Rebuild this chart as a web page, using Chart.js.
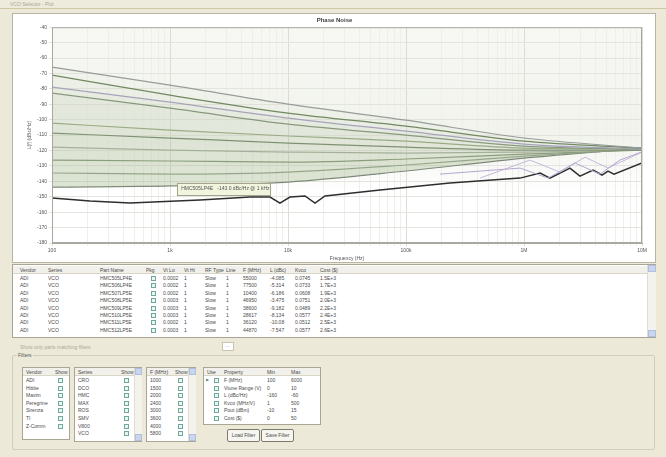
<!DOCTYPE html>
<html>
<head>
<meta charset="utf-8">
<script src="https://cdn.jsdelivr.net/npm/chart.js@4.4.1/dist/chart.umd.min.js"></script>
<style>
  html,body{margin:0;padding:0;}
  body{width:666px;height:457px;background:#ece9d8;position:relative;overflow:hidden;
       font-family:"Liberation Sans",Arial,sans-serif;color:#4a4a4a;}
  .abs{position:absolute;}
  .t{position:absolute;font-size:5px;line-height:6px;white-space:nowrap;}
  #topbar{left:0;top:0;width:666px;height:8px;border-bottom:1px solid #cfc6a4;background:#efebdc;}
  #panel{left:12px;top:13px;width:642px;height:248px;background:#fff;border:1px solid #b7b4a4;}
  #wrap{position:relative;width:642px;height:248px;}
  #grid{left:12px;top:264px;width:642px;height:72px;background:#fff;border:1px solid #a9a694;}
  .hdr{background:#f1f0ea;border-bottom:1px solid #d9d6c8;}
  .box{position:absolute;background:#fff;border:1px solid #a9a694;}
  .chk{position:absolute;width:3px;height:3px;border:1px solid #6fa79c;background:#e9f5f1;}
  .sb{position:absolute;background:#f3f2ec;border-left:1px solid #e0ddd0;}
  .arr{position:absolute;left:0;width:100%;height:7px;background:#c9d6ee;border:1px solid #b0bfe0;box-sizing:border-box;}
  .btn{position:absolute;height:11px;border:1px solid #7d7b6c;border-radius:2px;background:#f6f5f0;
       font-size:5px;line-height:11px;text-align:center;}
  #filters{left:12px;top:355px;width:641px;height:93px;border:1px solid #d2cdb8;border-radius:2px;}
</style>
</head>
<body>
<div id="topbar" class="abs"><span class="t" style="left:10px;top:1px;color:#a9a593;">VCO Selector - Plot</span></div>
<div id="panel" class="abs"><div id="wrap"><canvas id="c"></canvas></div></div>
<div id="grid" class="abs"></div>
<div id="lower"></div>

<script>
// ---- chart data: phase noise (dBc/Hz) at each offset frequency (Hz) ----
const xTickLabels = ['100', '1k', '10k', '100k', '1M', '10M'];
const offsets = [100, 1e3, 1e4, 1e5, 1e6, 1e7];

const vcoA = [-65.9, -77.6, -89.9, -100.3, -111.9, -118.4];
const vcoB = [-71.1, -84.1, -95.7, -104.2, -113.9, -118.4];
const vcoC = [-78.9, -88.6, -99.0, -107.4, -115.8, -119.1];
const vcoD = [-82.8, -92.5, -102.9, -110.0, -117.1, -119.1];
const vcoE = [-102.2, -106.8, -110.6, -113.9, -118.4, -119.1];
const vcoF = [-108.7, -111.9, -115.2, -117.8, -119.7, -119.7];
const vcoG = [-117.8, -119.7, -121.0, -121.7, -121.0, -119.7];
const vcoH = [-126.2, -126.8, -127.5, -125.5, -122.3, -119.7];
const vcoI = [-134.6, -135.3, -134.0, -129.4, -123.6, -119.1];
const vcoJ = [-143.7, -143.0, -140.5, -133.3, -124.9, -118.4];

// composite (best-case) noise floor with spur notches
const floorFreq  = [100, 210, 458, 1795, 4765, 7040, 8550, 10390, 13930, 16940, 20600, 60300,
                    236000, 925000, 1370000, 1660000, 2450000, 2980000, 3850000, 4580000, 5150000, 5790000, 10000000];
const floorLevel = [-150.8, -152.8, -154.1, -152.1, -150.2, -150.2, -154.1, -150.2, -149.5, -154.1, -149.5, -145.6,
                    -141.1, -137.9, -134.6, -137.9, -131.4, -136.6, -132.7, -135.9, -133.3, -135.3, -128.1];

// loop-filter responses near the upper offsets
const loopAFreq  = [194000, 925000, 1600000, 2700000, 4400000, 6500000, 10000000];
const loopALevel = [-135.3, -131.4, -137.9, -128.1, -135.3, -126.2, -120.9];
const loopBFreq  = [424000, 1120000, 2020000, 3290000, 5150000, 10000000];
const loopBLevel = [-137.9, -126.2, -134.0, -124.3, -131.4, -121.0];

// marker label for the selected part
const markerText = 'HMC505LP4E   -143.0 dBc/Hz @ 1 kHz';
const markerFreq = [1150, 7000];
const markerLevel = [-141, -149];

const pts = (xs, ys) => xs.map((x, i) => ({x: x, y: ys[i]}));

const vcoSeries = [vcoA, vcoB, vcoC, vcoD, vcoE, vcoF, vcoG, vcoH, vcoI, vcoJ];
const vcoColors = ['#979d9b', '#6e8760', '#a7a3c0', '#86957d', '#9aaa86', '#7b8a72',
                   '#aab0a2', '#8a987c', '#96a490', '#7d867c'];
const lastIdx = vcoSeries.length - 1;

const datasets = vcoSeries.map((s, i) => ({
  data: pts(offsets, s),
  borderColor: vcoColors[i],
  borderWidth: 1.2,
  backgroundColor: 'rgba(168,182,140,0.045)',
  fill: i === lastIdx ? false : {target: lastIdx},
  pointRadius: 0,
  cubicInterpolationMode: 'monotone'
}));
datasets.push({data: pts(loopAFreq, loopALevel), borderColor: '#b3a6d0', borderWidth: 1, pointRadius: 0, fill: false});
datasets.push({data: pts(loopBFreq, loopBLevel), borderColor: '#c4b8da', borderWidth: 1, pointRadius: 0, fill: false});
datasets.push({data: pts(floorFreq, floorLevel), borderColor: '#2e2e2e', borderWidth: 1.5, pointRadius: 0, fill: false});

const plotBackdrop = {
  id: 'plotBackdrop',
  beforeDraw(chart) {
    const {ctx, chartArea: a} = chart;
    const g = ctx.createLinearGradient(0, a.top, 0, a.bottom);
    g.addColorStop(0, '#f7f8f4');
    g.addColorStop(0.5, '#f1f3ec');
    g.addColorStop(0.76, '#ffffff');
    g.addColorStop(1, '#ffffff');
    ctx.save();
    ctx.fillStyle = g;
    ctx.fillRect(a.left, a.top, a.right - a.left, a.bottom - a.top);
    ctx.restore();
  },
  afterDatasetsDraw(chart) {
    const {ctx, chartArea: a, scales: {x, y}} = chart;
    ctx.save();
    ctx.strokeStyle = '#a8a8a0';
    ctx.lineWidth = 1;
    ctx.strokeRect(a.left + 0.5, a.top + 0.5, a.right - a.left - 1, a.bottom - a.top - 1);
    // marker label box
    const x0 = x.getPixelForValue(markerFreq[0]), x1 = x.getPixelForValue(markerFreq[1]);
    const y0 = y.getPixelForValue(markerLevel[0]), y1 = y.getPixelForValue(markerLevel[1]);
    ctx.fillStyle = '#f2f5dd';
    ctx.strokeStyle = '#a3a390';
    ctx.fillRect(x0, y0, x1 - x0, y1 - y0);
    ctx.strokeRect(Math.round(x0) + 0.5, Math.round(y0) + 0.5, Math.round(x1 - x0), Math.round(y1 - y0));
    ctx.fillStyle = '#555';
    ctx.font = '5px "Liberation Sans", Arial, sans-serif';
    ctx.textBaseline = 'middle';
    ctx.fillText(markerText, x0 + 4, (y0 + y1) / 2);
    ctx.restore();
  }
};

new Chart(document.getElementById('c'), {
  type: 'line',
  data: {datasets},
  plugins: [plotBackdrop],
  options: {
    responsive: true,
    maintainAspectRatio: false,
    animation: false,
    layout: {padding: {left: 14, right: 13, top: 0, bottom: 0}},
    plugins: {
      legend: {display: false},
      tooltip: {enabled: false},
      title: {display: true, text: 'Phase Noise', color: '#3d3d3d',
              font: {size: 6, weight: 'bold', family: '"Liberation Sans", Arial, sans-serif'},
              padding: {top: 3, bottom: 3}}
    },
    scales: {
      x: {
        type: 'logarithmic', min: 100, max: 1e7,
        afterBuildTicks(s) {
          const t = [];
          for (let d = 2; d <= 7; d++) for (let m = 1; m <= 9; m++) {
            const v = m * Math.pow(10, d);
            if (v <= 1e7) t.push({value: v});
          }
          s.ticks = t;
        },
        afterFit(s) { s.height = 19; },
        ticks: {
          autoSkip: false, maxRotation: 0, color: '#555', padding: 2,
          font: {size: 5, family: '"Liberation Sans", Arial, sans-serif'},
          callback(v) {
            const e = Math.log10(v);
            return Math.abs(e - Math.round(e)) < 1e-9 ? xTickLabels[Math.round(e) - 2] : '';
          }
        },
        grid: {color: (c) => (c.tick && c.tick.label !== '' ? '#dcdcd5' : '#eeeeea'), tickLength: 3},
        border: {color: '#a8a8a0'},
        title: {display: true, text: 'Frequency (Hz)', color: '#555', padding: {top: 0, bottom: 0},
                font: {size: 5, family: '"Liberation Sans", Arial, sans-serif'}}
      },
      y: {
        min: -180, max: -40,
        afterFit(s) { s.width = 25; },
        ticks: {stepSize: 10, color: '#555', padding: 2,
                font: {size: 5, family: '"Liberation Sans", Arial, sans-serif'}},
        grid: {color: '#e4e4de', tickLength: 3},
        border: {color: '#a8a8a0'},
        title: {display: true, text: 'L(f) (dBc/Hz)', color: '#555', padding: {top: 0, bottom: 0},
                font: {size: 5, family: '"Liberation Sans", Arial, sans-serif'}}
      }
    }
  }
});

// ---- parts table ----
const tableColumns = ['Vendor', 'Series', 'Part Name', 'Pkg', 'Vt Lo', 'Vt Hi', 'RF Type', 'Line',
                      'F (MHz)', 'L (dBc)', 'Kvco', 'Cost ($)'];
const tableColX = [20, 48, 100, 146, 163, 184, 205, 226, 243, 270, 295, 320];
const tableRows = [
  ['ADI', 'VCO', 'HMC505LP4E', '', '0.0002', '1', 'Slow', '1', '55000', '-4.085', '0.0745', '1.5E+3'],
  ['ADI', 'VCO', 'HMC506LP4E', '', '0.0002', '1', 'Slow', '1', '77500', '-5.314', '0.0733', '1.7E+3'],
  ['ADI', 'VCO', 'HMC507LP5E', '', '0.0002', '1', 'Slow', '1', '10400', '-6.186', '0.0608', '1.9E+3'],
  ['ADI', 'VCO', 'HMC508LP5E', '', '0.0003', '1', 'Slow', '1', '46950', '-3.475', '0.0751', '2.0E+3'],
  ['ADI', 'VCO', 'HMC509LP5E', '', '0.0003', '1', 'Slow', '1', '38600', '-9.182', '0.0489', '2.2E+3'],
  ['ADI', 'VCO', 'HMC510LP5E', '', '0.0003', '1', 'Slow', '1', '28617', '-8.134', '0.0577', '2.4E+3'],
  ['ADI', 'VCO', 'HMC511LP5E', '', '0.0002', '1', 'Slow', '1', '36120', '-10.08', '0.0512', '2.5E+3'],
  ['ADI', 'VCO', 'HMC512LP5E', '', '0.0003', '1', 'Slow', '1', '44870', '-7.547', '0.0577', '2.6E+3']
];

function put(parent, text, x, y, extra) {
  const s = document.createElement('span');
  s.className = 't';
  s.style.left = x + 'px';
  s.style.top = y + 'px';
  if (extra) s.style.cssText += extra;
  s.textContent = text;
  parent.appendChild(s);
  return s;
}
function el(parent, cls, css) {
  const d = document.createElement('div');
  d.className = cls;
  d.style.cssText = css;
  parent.appendChild(d);
  return d;
}

const grid = document.getElementById('grid');
el(grid, 'abs hdr', 'left:0;top:1px;width:634px;height:7px;');
tableColumns.forEach((h, i) => put(grid, h, tableColX[i] - 13, 2));
tableRows.forEach((r, ri) => {
  const y = 10 + ri * 7.4;
  r.forEach((v, ci) => { if (v !== '') put(grid, v, tableColX[ci] - 13, y); });
  el(grid, 'chk', 'left:' + (151 - 13) + 'px;top:' + (y + 1) + 'px;');
});
const gsb = el(grid, 'sb', 'left:634px;top:0;width:8px;height:72px;');
el(gsb, 'arr', 'top:0;');
el(gsb, 'arr', 'bottom:0;');

// ---- filter panel ----
const lower = document.getElementById('lower');
put(lower, 'Show only parts matching filters', 20, 344, 'color:#aeaa98;');
el(lower, 'box', 'left:222px;top:342px;width:10px;height:7px;border-color:#c9c5b2;');
put(lower, '...', 225, 342, 'color:#888;');
el(lower, 'abs', '').id = 'filters';
put(lower, 'Filters', 17, 352, 'background:#ece9d8;padding:0 1px;color:#555;');

const vendorList = ['ADI', 'Hittite', 'Maxim', 'Peregrine', 'Sirenza', 'TI', 'Z-Comm'];
const seriesList = ['CRO', 'DCO', 'HMC', 'MAX', 'ROS', 'SMV', 'V800', 'VCO'];
const bandList = ['1000', '1500', '2000', '2400', '3000', '3600', '4000', '5800'];
const limitRows = [
  ['F (MHz)', '100', '6000'],
  ['Vtune Range (V)', '0', '10'],
  ['L (dBc/Hz)', '-160', '-60'],
  ['Kvco (MHz/V)', '1', '500'],
  ['Pout (dBm)', '-10', '15'],
  ['Cost ($)', '0', '50']
];

function listBox(x, w, h, title, items, scroll) {
  const b = el(lower, 'box', 'left:' + x + 'px;top:367px;width:' + w + 'px;height:' + h + 'px;');
  el(b, 'abs hdr', 'left:0;top:0;width:' + (w - (scroll ? 7 : 0)) + 'px;height:7px;');
  put(b, title, 3, 1);
  put(b, 'Show', w - (scroll ? 20 : 14), 1);
  items.forEach((it, i) => {
    const y = 9 + i * 7.6;
    put(b, it, 3, y);
    el(b, 'chk', 'left:' + (w - (scroll ? 17 : 11)) + 'px;top:' + (y + 1) + 'px;');
  });
  if (scroll) {
    const s = el(b, 'sb', 'left:' + (w - 7) + 'px;top:0;width:7px;height:' + h + 'px;');
    el(s, 'arr', 'top:0;');
    el(s, 'arr', 'bottom:0;');
  }
}
listBox(22, 46, 71, 'Vendor', vendorList, false);
listBox(74, 66, 73, 'Series', seriesList, true);
listBox(146, 48, 73, 'F (MHz)', bandList, true);

const lim = el(lower, 'box', 'left:203px;top:367px;width:116px;height:56px;');
el(lim, 'abs hdr', 'left:0;top:0;width:116px;height:7px;');
put(lim, 'Use', 3, 1);
put(lim, 'Property', 20, 1);
put(lim, 'Min', 63, 1);
put(lim, 'Max', 87, 1);
limitRows.forEach((r, i) => {
  const y = 9 + i * 7.6;
  el(lim, 'chk', 'left:10px;top:' + (y + 1) + 'px;');
  put(lim, r[0], 20, y);
  put(lim, r[1], 63, y);
  put(lim, r[2], 87, y);
});
put(lim, '\u25B6', 2, 9, 'color:#5a8a7a;font-size:4px;');

const b1 = el(lower, 'btn', 'left:227px;top:429px;width:31px;');
b1.textContent = 'Load Filter';
const b2 = el(lower, 'btn', 'left:261px;top:429px;width:31px;');
b2.textContent = 'Save Filter';
</script>
</body>
</html>
